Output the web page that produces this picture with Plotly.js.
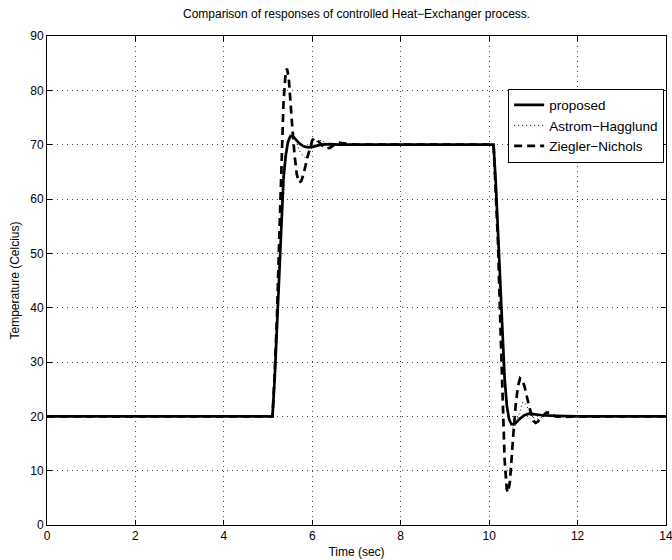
<!DOCTYPE html>
<html>
<head>
<meta charset="utf-8">
<script src="https://cdn.plot.ly/plotly-3.0.1.min.js"></script>
<style>html,body{margin:0;padding:0;background:#fff;}#chart{width:672px;height:560px;}</style>
</head>
<body>
<div id="chart"></div>
<script>
// Proposed controller response
const tProposed = [0, 5.1, 5.15, 5.2, 5.25, 5.3, 5.35, 5.4, 5.45, 5.5, 5.55, 5.6, 5.7, 5.8, 5.9, 6.0, 6.1, 6.2, 6.4, 6.6, 7.0,
  10.1, 10.15, 10.2, 10.25, 10.3, 10.35, 10.4, 10.45, 10.5, 10.55, 10.6, 10.7, 10.8, 10.9, 11.0, 11.2, 11.5, 12.0, 14.0];
const vProposed = [20, 20, 27, 36, 47, 57, 64, 68, 70.5, 71.5, 71.6, 71.2, 70.3, 69.7, 69.5, 69.6, 69.8, 70, 70.1, 70, 70,
  70, 63, 54, 44, 34, 27, 22, 19.5, 18.6, 18.5, 18.8, 19.6, 20.2, 20.5, 20.4, 20.2, 20.1, 20, 20];

// Astrom-Hagglund response
const tAstrom = [0, 5.1, 5.15, 5.2, 5.25, 5.3, 5.35, 5.4, 5.45, 5.5, 5.55, 5.6, 5.7, 5.8, 5.85, 5.9, 6.0, 6.1, 6.2, 6.3, 6.4, 6.5, 6.7, 7.0,
  10.1, 10.15, 10.2, 10.25, 10.3, 10.35, 10.4, 10.45, 10.5, 10.55, 10.6, 10.7, 10.75, 10.8, 10.85, 10.9, 11.0, 11.1, 11.2, 11.3, 11.5, 12.0, 14.0];
const vAstrom = [20, 20, 26, 34, 44, 54, 62, 67.5, 70.5, 72, 72.3, 71.5, 69, 67.8, 67.6, 68, 69.5, 70.6, 70.8, 70.4, 69.9, 69.8, 70, 70,
  70, 64, 56, 46, 36, 28, 22.5, 19.5, 18, 17.8, 18.5, 21, 22.5, 22.6, 22, 21, 19.8, 19.5, 19.8, 20.2, 20.1, 20, 20];

// Ziegler-Nichols response
const tZiegler = [0, 5.1, 5.15, 5.2, 5.25, 5.3, 5.35, 5.4, 5.43, 5.47, 5.5, 5.55, 5.6, 5.65, 5.7, 5.75, 5.8, 5.9, 6.0, 6.05, 6.1, 6.2, 6.3, 6.4, 6.5, 6.6, 6.8, 7.0,
  10.1, 10.15, 10.2, 10.25, 10.3, 10.35, 10.4, 10.43, 10.47, 10.5, 10.55, 10.6, 10.65, 10.7, 10.75, 10.8, 10.9, 11.0, 11.05, 11.1, 11.2, 11.3, 11.4, 11.5, 11.7, 12.0, 14.0];
const vZiegler = [20, 20, 28, 38, 52, 66, 78, 83.5, 84, 82, 78, 73, 68, 64.5, 63, 63.3, 64.5, 68, 70.8, 71.2, 71, 70, 69.3, 69.4, 70, 70.4, 70.1, 70,
  70, 62, 52, 38, 24, 12, 6.5, 6, 8, 12, 17, 22, 25.5, 27, 26.7, 25.5, 22, 19.2, 18.8, 19, 20, 20.7, 20.6, 20, 19.9, 20, 20];

const seriesNames = ['proposed', 'Astrom\u2212Hagglund', 'Ziegler\u2212Nichols'];
const titleText = 'Comparison of responses of controlled Heat\u2212Exchanger process.';
const xTitle = 'Time (sec)';
const yTitle = 'Temperature (Celcius)';

const font = {family: 'Liberation Sans, Arial, sans-serif', size: 12, color: '#000'};
const legendFont = {family: 'Liberation Sans, Arial, sans-serif', size: 13.5, color: '#000'};

const traces = [
  {x: tProposed, y: vProposed, name: seriesNames[0], type: 'scatter', mode: 'lines',
   line: {color: '#000', width: 2.7}},
  {x: tAstrom, y: vAstrom, name: seriesNames[1], type: 'scatter', mode: 'lines',
   line: {color: '#000', width: 1, dash: '1px,3px'}},
  {x: tZiegler, y: vZiegler, name: seriesNames[2], type: 'scatter', mode: 'lines',
   line: {color: '#000', width: 2.7, dash: '8px,5px'}}
];

const axisCommon = {
  showline: true, linecolor: '#000', linewidth: 1, mirror: 'ticks',
  ticks: 'inside', ticklen: 5, tickcolor: '#000', tickwidth: 1,
  showgrid: true, gridcolor: '#444', gridwidth: 1, griddash: '1px,4px',
  zeroline: false, tickfont: font, ticklabeloverflow: 'allow'
};

const layout = {
  width: 672, height: 560,
  margin: {l: 47, r: 6, t: 36, b: 35},
  paper_bgcolor: '#fff', plot_bgcolor: '#fff',
  font: font,
  title: {text: titleText, font: font, x: 0.5306, xanchor: 'center', y: 0.975, yanchor: 'middle'},
  xaxis: Object.assign({}, axisCommon, {range: [0, 14.0001], dtick: 2, tick0: 0,
    title: {text: xTitle, font: font, standoff: 5}}),
  yaxis: Object.assign({}, axisCommon, {range: [0, 90], dtick: 10, tick0: 0,
    title: {text: yTitle, font: font, standoff: 8}}),
  showlegend: true,
  legend: {x: 0.997, xanchor: 'right', y: 0.8925, yanchor: 'top',
    bgcolor: '#fff', bordercolor: '#000', borderwidth: 1, font: legendFont,
    tracegroupgap: 0}
};

Plotly.newPlot('chart', traces, layout, {staticPlot: true, displayModeBar: false});
</script>
</body>
</html>
